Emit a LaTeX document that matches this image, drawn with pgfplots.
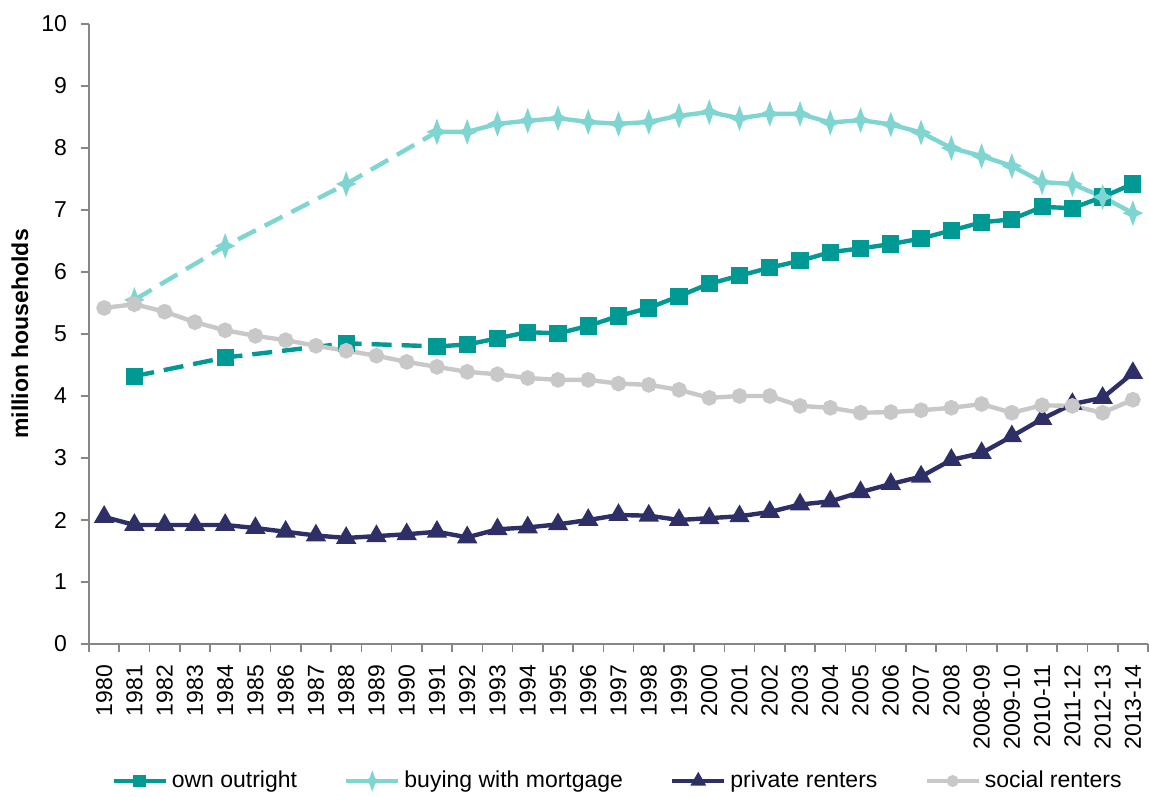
\documentclass[border=0pt]{standalone}
\usepackage{fontspec}
\setmainfont{Liberation Sans}
\usepackage{pgfplots}
\pgfplotsset{compat=1.18}

\definecolor{ownc}{RGB}{0,153,148}
\definecolor{mortc}{RGB}{127,213,207}
\definecolor{privc}{RGB}{46,47,102}
\definecolor{socc}{RGB}{200,200,200}
\definecolor{axisgray}{RGB}{134,134,134}

% four-pointed star used for the mortgage series
\pgfdeclareplotmark{star4}{%
  \pgfpathmoveto{\pgfqpoint{0pt}{1.05\pgfplotmarksize}}%
  \pgfpathlineto{\pgfqpoint{0.28\pgfplotmarksize}{0.28\pgfplotmarksize}}%
  \pgfpathlineto{\pgfqpoint{0.85\pgfplotmarksize}{0pt}}%
  \pgfpathlineto{\pgfqpoint{0.28\pgfplotmarksize}{-0.28\pgfplotmarksize}}%
  \pgfpathlineto{\pgfqpoint{0pt}{-1.05\pgfplotmarksize}}%
  \pgfpathlineto{\pgfqpoint{-0.28\pgfplotmarksize}{-0.28\pgfplotmarksize}}%
  \pgfpathlineto{\pgfqpoint{-0.85\pgfplotmarksize}{0pt}}%
  \pgfpathlineto{\pgfqpoint{-0.28\pgfplotmarksize}{0.28\pgfplotmarksize}}%
  \pgfpathclose
  \pgfusepathqfillstroke
}

\newcommand\lbl{\fontsize{11.5bp}{13.8bp}\selectfont}

\begin{document}
\begin{tikzpicture}
\begin{axis}[
    at={(0,0)}, anchor=south west,
    scale only axis,
    width=529.5bp, height=310bp,
    xmin=-0.5, xmax=34.5,
    ymin=0, ymax=10,
    axis x line*=bottom, axis y line*=left,
    axis line style={draw=axisgray, line width=0.8bp},
    tick align=outside,
    major tick length=4bp, minor tick length=4bp,
    tick style={draw=axisgray, line width=0.8bp},
    xtick={0,...,34},
    major x tick style={draw=none},
    minor xtick={-0.5,0.5,...,34.5},
    xticklabels={1980,1981,1982,1983,1984,1985,1986,1987,1988,1989,1990,
        1991,1992,1993,1994,1995,1996,1997,1998,1999,2000,2001,2002,2003,
        2004,2005,2006,2007,2008,2008-09,2009-10,2010-11,2011-12,2012-13,2013-14},
    x tick label style={rotate=90, anchor=east, font=\lbl},
    xticklabel shift=3bp,
    ytick={0,1,...,10},
    y tick label style={font=\lbl},
    yticklabel shift=3.5bp,
    /pgf/number format/assume math mode=true,
    ylabel={\bfseries million households},
    ylabel style={at={(axis description cs:-0.0652,0.5)}, anchor=center, font=\lbl},
    legend columns=4,
    legend style={at={(0.5,-0.221)}, anchor=center, draw=none, font=\lbl,
        /tikz/every even column/.append style={column sep=21.5bp}},
    legend image code/.code={%
        \draw[mark repeat=2, mark phase=2, mark options={scale=0.65}]
        plot coordinates {(0bp,0bp) (13bp,0bp) (26bp,0bp)};},
    every axis plot/.append style={line width=2.2bp},
]

% own outright
\addplot[ownc, dashed, dash pattern=on 10bp off 5bp, mark=square*, mark size=3.2bp,
    mark options={solid}, forget plot]
    coordinates {(1,4.32) (4,4.62) (8,4.85) (11,4.80)};
\addplot[ownc, mark=square*, mark size=3.2bp]
    coordinates {
    (11,4.80) (12,4.83) (13,4.93) (14,5.03) (15,5.01) (16,5.13) (17,5.29)
    (18,5.42) (19,5.61) (20,5.81) (21,5.94) (22,6.07) (23,6.18) (24,6.32)
    (25,6.38) (26,6.45) (27,6.54) (28,6.67) (29,6.80) (30,6.85) (31,7.05)
    (32,7.03) (33,7.21) (34,7.42)
    };

% buying with mortgage
\addplot[mortc, dashed, dash pattern=on 10bp off 5bp, mark=star4, mark size=3.1bp,
    mark options={solid}, forget plot]
    coordinates {(1,5.55) (4,6.42) (8,7.42) (11,8.26)};
\addplot[mortc, mark=star4, mark size=3.1bp]
    coordinates {
    (11,8.26) (12,8.26) (13,8.39) (14,8.44) (15,8.48) (16,8.42) (17,8.39)
    (18,8.42) (19,8.52) (20,8.58) (21,8.48) (22,8.55) (23,8.55) (24,8.41)
    (25,8.45) (26,8.38) (27,8.25) (28,8.00) (29,7.87) (30,7.71) (31,7.45)
    (32,7.42) (33,7.21) (34,6.95)
    };

% private renters
\addplot[privc, mark=triangle*, mark size=3.7bp]
    coordinates {
    (0,2.05) (1,1.92) (2,1.92) (3,1.92) (4,1.92) (5,1.87) (6,1.81) (7,1.75)
    (8,1.71) (9,1.74) (10,1.77) (11,1.81) (12,1.72) (13,1.85) (14,1.88)
    (15,1.93) (16,2.00) (17,2.08) (18,2.07) (19,2.00) (20,2.03) (21,2.06)
    (22,2.13) (23,2.25) (24,2.30) (25,2.45) (26,2.58) (27,2.70) (28,2.97)
    (29,3.08) (30,3.35) (31,3.63) (32,3.87) (33,3.97) (34,4.37)
    };

% social renters
\addplot[socc, mark=*, mark size=2.8bp]
    coordinates {
    (0,5.42) (1,5.48) (2,5.36) (3,5.19) (4,5.06) (5,4.97) (6,4.90) (7,4.81)
    (8,4.73) (9,4.65) (10,4.55) (11,4.47) (12,4.39) (13,4.35) (14,4.29)
    (15,4.26) (16,4.26) (17,4.20) (18,4.18) (19,4.10) (20,3.97) (21,4.00)
    (22,4.00) (23,3.84) (24,3.81) (25,3.73) (26,3.74) (27,3.77) (28,3.81)
    (29,3.87) (30,3.73) (31,3.85) (32,3.84) (33,3.73) (34,3.94)
    };

\legend{own outright, buying with mortgage, private renters, social renters}
\end{axis}
\pgfresetboundingbox
\path[use as bounding box] (-44.5bp,-76.5bp) rectangle (530bp,322bp);
\end{tikzpicture}
\end{document}
